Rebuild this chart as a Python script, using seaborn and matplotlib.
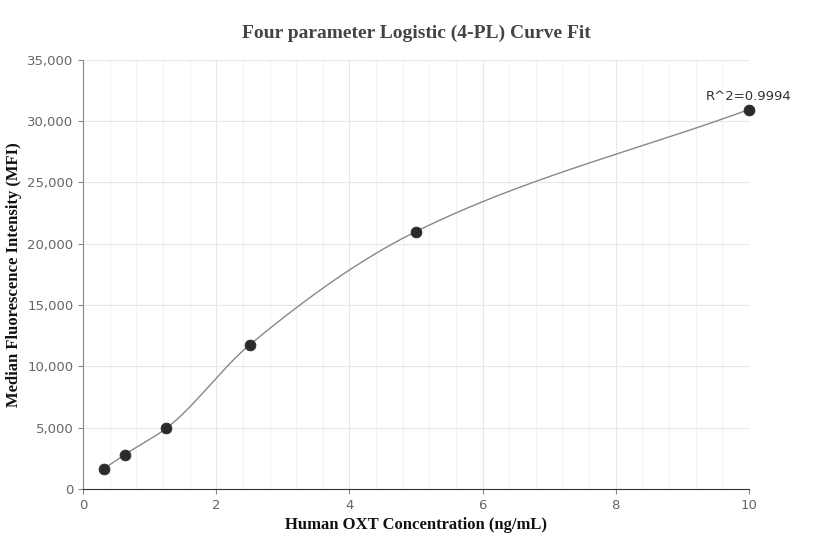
import numpy as np
import pandas as pd
import matplotlib
matplotlib.use("Agg")
import matplotlib.pyplot as plt
import seaborn as sns
from matplotlib.ticker import FuncFormatter, MultipleLocator

conc = [0.3125, 0.625, 1.25, 2.5, 5, 10]
mfi = [1650, 2800, 4950, 11750, 21000, 30950]
r2_label = "R^2=0.9994"

def pchip(x, y, xs):
    x = np.asarray(x, float); y = np.asarray(y, float)
    h = np.diff(x); d = np.diff(y) / h
    m = np.zeros_like(y)
    for k in range(1, len(x) - 1):
        if d[k-1] * d[k] > 0:
            w1 = 2*h[k] + h[k-1]; w2 = h[k] + 2*h[k-1]
            m[k] = (w1 + w2) / (w1/d[k-1] + w2/d[k])
    m[0] = d[0]; m[-1] = d[-1]
    idx = np.clip(np.searchsorted(x, xs) - 1, 0, len(x) - 2)
    t = (xs - x[idx]) / h[idx]
    h00 = 2*t**3 - 3*t**2 + 1; h10 = t**3 - 2*t**2 + t
    h01 = -2*t**3 + 3*t**2; h11 = t**3 - t**2
    return h00*y[idx] + h10*h[idx]*m[idx] + h01*y[idx+1] + h11*h[idx]*m[idx+1]

xs = np.linspace(conc[0], conc[-1], 400)
curve = pd.DataFrame({"x": xs, "y": pchip(conc, mfi, xs)})
pts = pd.DataFrame({"x": conc, "y": mfi})

fig, ax = plt.subplots(figsize=(8.32, 5.6), dpi=100)
fig.subplots_adjust(left=0.1, right=0.9, top=0.893, bottom=0.127)
sns.lineplot(data=curve, x="x", y="y", ax=ax, color="#888888", linewidth=1)
sns.scatterplot(data=pts, x="x", y="y", ax=ax, color="#2b2b2b", s=60, edgecolor="#2b2b2b", zorder=3, clip_on=False)
ax.annotate(r2_label, (conc[-1], mfi[-1]), xytext=(0, 5), textcoords="offset points",
            ha="center", va="bottom", fontsize=9.5, color="#333333", fontfamily="DejaVu Sans")

ax.set_xlim(0, 10); ax.set_ylim(0, 35000)
ax.xaxis.set_major_locator(MultipleLocator(2))
ax.xaxis.set_minor_locator(MultipleLocator(0.4))
ax.yaxis.set_major_locator(MultipleLocator(5000))
ax.yaxis.set_major_formatter(FuncFormatter(lambda v, p: f"{int(v):,}"))
ax.grid(which="major", color="#e6e6e6", linewidth=0.8)
ax.grid(which="minor", axis="x", color="#f3f3f3", linewidth=0.8)
ax.set_axisbelow(True)
for s in ["top", "right"]:
    ax.spines[s].set_visible(False)
ax.spines["left"].set_color("#888888"); ax.spines["bottom"].set_color("#333333")
ax.tick_params(which="both", colors="#888888", labelcolor="#666666", labelsize=9.5)
ax.tick_params(which="minor", length=0)
ax.set_xlabel("Human OXT Concentration (ng/mL)", fontfamily="Liberation Serif", fontweight="bold", fontsize=12, color="#111111")
ax.set_ylabel("Median Fluorescence Intensity (MFI)", fontfamily="Liberation Serif", fontweight="bold", fontsize=12, color="#111111")
ax.set_title("Four parameter Logistic (4-PL) Curve Fit", fontfamily="Liberation Serif", fontweight="bold", fontsize=14, color="#444444", pad=16)
fig.savefig("out.png", dpi=100)
